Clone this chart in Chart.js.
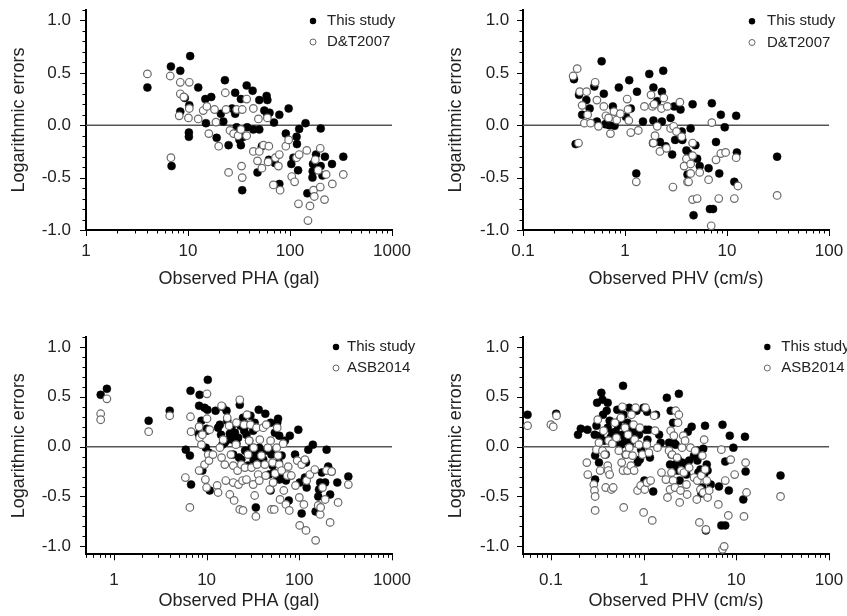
<!DOCTYPE html>
<html><head><meta charset="utf-8">
<script src="https://cdn.jsdelivr.net/npm/chart.js@4.4.1/dist/chart.umd.min.js"></script>
<style>
html,body{margin:0;padding:0;background:#fff;width:847px;height:616px;overflow:hidden;}
canvas{position:absolute;}
</style></head><body>
<canvas id="c1" width="424" height="308" style="left:0;top:0"></canvas>
<canvas id="c2" width="423" height="308" style="left:424px;top:0"></canvas>
<canvas id="c3" width="424" height="308" style="left:0;top:308px"></canvas>
<canvas id="c4" width="423" height="308" style="left:424px;top:308px"></canvas>
<script>
// ---------- tick labels ----------
const yTickValues = [-1.0, -0.5, 0.0, 0.5, 1.0];
const phaTicks = [1, 10, 100, 1000];
const phvTicks = [0.1, 1, 10, 100];
const studyLabel = 'This study';
const dtLabel = 'D&T2007';
const asbLabel = 'ASB2014';
const yTitle = 'Logarithmic errors';
const phaTitle = 'Observed PHA (gal)';
const phvTitle = 'Observed PHV (cm/s)';

// ---------- panel 1: PHA, This study vs D&T2007 ----------
const phaStudyDT = [[4.0,0.36],[6.8,0.56],[6.9,-0.39],[8.4,0.52],[8.4,0.13],[9.3,0.26],[10.5,0.66],[10.3,0.19],[10.2,-0.07],[10.2,-0.11],[12.6,0.36],[14.8,0.25],[15,0.02],[16.9,0.27],[19.1,-0.12],[21,0.11],[22.2,0.035],[23,0.43],[25,-0.19],[27,0.16],[29,0.31],[29,0.11],[30,-0.02],[33,0.25],[32,-0.14],[33,-0.19],[34,-0.62],[35,-0.11],[37.6,0.38],[38,-0.02],[43,0.33],[43.7,-0.04],[48,-0.45],[50,0.24],[50,-0.04],[53,-0.2],[56,0.14],[59,0.28],[60,0.24],[60,0.1],[63,0.12],[62,-0.33],[69.7,0.025],[71,-0.36],[78.6,0.1],[78.6,-0.56],[97,0.16],[91,-0.08],[103,-0.37],[116,-0.11],[117,-0.18],[120,-0.43],[123,-0.035],[108,-0.31],[142,0.02],[148,-0.65],[166,-0.5],[167,-0.44],[168,-0.37],[180,-0.28],[200,-0.03],[200,-0.39],[208,-0.48],[220,-0.3],[258,-0.37],[333,-0.3]];
const phaDT = [[4.0,0.49],[6.7,0.47],[6.8,-0.31],[8.4,0.41],[8.4,0.30],[9.1,0.27],[8.2,0.09],[10.3,0.41],[10.3,0.16],[10.1,0.07],[12.6,0.06],[14.1,0.14],[15.3,0.18],[16,-0.08],[18.2,0.15],[18.8,0.03],[20,-0.2],[23.2,0.31],[23.6,0.15],[25.8,-0.05],[25,-0.45],[28,-0.08],[30,0.15],[31,-0.1],[33.5,-0.39],[34,-0.5],[33,-0.04],[34,0.15],[37.6,0.25],[37.6,-0.1],[43.7,0.16],[43.7,-0.25],[48,-0.34],[49,0.06],[50,-0.25],[53,-0.41],[55,-0.19],[62,-0.2],[60,0.07],[61,-0.35],[68.7,-0.57],[72,-0.31],[78.6,-0.28],[80,-0.62],[77,-0.39],[91,-0.2],[97,-0.14],[104,-0.49],[111,-0.54],[116,-0.31],[121,-0.75],[123,-0.28],[146,-0.24],[150,-0.91],[157,-0.77],[170,-0.62],[173,-0.68],[177,-0.33],[189,-0.43],[198,-0.22],[198,-0.59],[218,-0.71],[226,-0.47],[260,-0.56],[333,-0.47]];

// ---------- panel 2: PHV, This study vs D&T2007 ----------
const phvStudyDT = [[0.316,0.44],[0.328,-0.18],[0.354,0.29],[0.38,0.1],[0.418,0.24],[0.45,0.16],[0.5,0.37],[0.53,0.035],[0.59,0.61],[0.62,0.3],[0.64,0.01],[0.67,0.02],[0.7,0.0],[0.76,0.18],[0.79,-0.006],[0.87,0.36],[1.02,0.08],[1.1,0.43],[1.14,0.16],[1.31,0.32],[1.29,-0.46],[1.5,0.035],[1.73,0.49],[1.9,0.36],[1.9,0.045],[1.88,-0.17],[2.07,0.23],[2.2,-0.16],[2.3,0.32],[2.3,0.035],[2.37,0.52],[2.5,-0.2],[2.8,0.07],[2.9,-0.28],[3.03,0.18],[3.1,-0.14],[3.5,0.15],[3.6,-0.06],[3.65,-0.14],[4.0,-0.24],[4.1,-0.47],[4.2,-0.27],[4.4,-0.03],[4.6,0.2],[4.7,-0.86],[4.9,-0.19],[5.1,-0.32],[5.4,-0.39],[6.6,-0.41],[6.8,-0.8],[7.3,-0.8],[7.1,0.21],[7.8,-0.16],[8.4,-0.46],[8.7,0.1],[9.5,-0.02],[11.8,-0.54],[12.3,0.09],[12.5,-0.26],[31,-0.3]];
const phvDT = [[0.31,0.47],[0.34,0.54],[0.35,-0.17],[0.36,0.32],[0.38,0.19],[0.4,0.02],[0.42,0.32],[0.43,0.1],[0.46,0.02],[0.51,0.41],[0.53,0.24],[0.55,-0.01],[0.62,0.18],[0.65,0.09],[0.69,0.07],[0.72,-0.08],[0.78,0.13],[0.83,0.05],[0.9,0.11],[1.05,0.25],[1.07,0.15],[1.14,-0.07],[1.09,0.045],[1.29,-0.54],[1.35,-0.05],[1.55,0.18],[1.8,0.29],[1.86,0.18],[1.93,0.2],[1.97,-0.1],[1.9,-0.17],[2.07,-0.01],[2.2,-0.25],[2.28,0.16],[2.4,0.26],[2.6,0.18],[2.55,-0.22],[2.8,-0.03],[2.95,-0.59],[3.0,-0.01],[3.2,-0.06],[3.45,0.22],[3.6,-0.11],[3.8,-0.39],[4.0,-0.32],[4.1,-0.54],[4.2,-0.54],[4.4,-0.37],[4.4,-0.46],[4.6,-0.17],[4.6,-0.29],[4.6,-0.71],[5.1,-0.7],[5.4,-0.45],[6.6,-0.52],[7.0,-0.96],[7.1,0.025],[7.8,-0.33],[8.3,-0.7],[8.7,-0.27],[9.7,-0.26],[11.8,-0.7],[12.3,-0.31],[12.8,-0.58],[31,-0.67]];

// ---------- panel 3: PHA, This study vs ASB2014 ----------
const phaStudyASB = [[0.72,0.52],[0.84,0.58],[2.37,0.26],[4.0,0.36],[5.96,-0.03],[6.6,-0.09],[6.7,0.56],[6.8,-0.38],[8.4,0.52],[8.3,0.41],[8.2,0.13],[8.8,0.26],[9.0,-0.24],[9.5,0.39],[9.8,-0.01],[10,0.18],[10.1,0.16],[10.3,0.67],[10.2,0.37],[10.6,-0.06],[10.8,-0.44],[12.5,0.36],[13.3,0.19],[13.9,0.22],[14.3,0.12],[14.8,0.4],[14.8,0.02],[15.7,0.04],[16.4,0.36],[16.7,0.26],[16.8,0.07],[17.8,0.13],[18.6,0.2],[19.1,0.07],[19.4,-0.08],[20.2,0.14],[20.7,0.07],[21,0.03],[21.9,0.09],[22.4,-0.11],[22.8,0.42],[23.2,0.21],[23.7,-0.13],[24.7,0.29],[25.4,0.16],[26,-0.04],[26.9,0.12],[27.3,0.22],[28,-0.19],[28.8,0.06],[29.7,0.31],[29.7,-0.08],[30.5,-0.01],[31.8,0.16],[32.2,-0.14],[33,0.24],[33.7,-0.09],[34,-0.61],[34.6,-0.08],[36,-0.13],[36.5,0.37],[37,-0.01],[38.2,-0.07],[39,-0.08],[40.8,-0.13],[43,0.33],[43.4,-0.04],[49,-0.44],[47,-0.28],[49,0.24],[49,-0.04],[50,-0.08],[51.5,-0.19],[53,-0.26],[54.5,0.14],[57,-0.29],[57.8,0.24],[59,0.28],[60,-0.16],[60.8,0.11],[60.8,-0.33],[64.5,-0.09],[68,-0.31],[70,0.06],[71.7,-0.34],[77,-0.54],[79,0.11],[80.6,-0.29],[90,-0.08],[97.6,0.17],[101,-0.36],[106,-0.67],[115,-0.31],[118,-0.16],[120,-0.41],[125,-0.03],[140,0.02],[150,-0.65],[160,-0.5],[163,-0.43],[168,-0.36],[175,-0.26],[190,-0.36],[197,-0.03],[205,-0.2],[215,-0.48],[223,-0.25],[257,-0.36],[338,-0.3]];
const phaASB = [[0.72,0.33],[0.72,0.27],[0.84,0.48],[2.37,0.15],[4.0,0.31],[5.9,-0.31],[6.6,-0.61],[6.7,0.3],[6.8,0.15],[8.3,0.2],[8.4,0.09],[8.3,-0.24],[8.8,0.02],[9.0,0.12],[9.5,-0.18],[9.7,-0.33],[10,-0.41],[10.1,0.53],[10.1,0.28],[10.4,-0.08],[10.6,-0.14],[10.8,0.17],[11.7,-0.08],[13,-0.39],[13.3,-0.46],[13.9,-0.01],[14.5,0.41],[14.5,-0.11],[15.1,0.07],[15.7,-0.18],[16.1,-0.34],[16.7,0.29],[17.5,0.21],[17.8,-0.48],[18.3,-0.08],[19.4,-0.19],[19.4,-0.36],[19.8,-0.54],[20.7,0.02],[21,0.24],[21.6,-0.24],[22.1,-0.38],[22.8,0.47],[22.8,-0.63],[23.7,-0.18],[24.4,-0.34],[24.7,-0.64],[25.4,0.22],[25.9,-0.21],[26.9,-0.33],[27.3,0.32],[28,-0.08],[28.8,0.06],[29.7,0.22],[30.5,-0.21],[31.8,-0.38],[32.2,-0.01],[33,-0.49],[34,-0.7],[34.6,0.19],[35,-0.18],[36,-0.28],[37,-0.34],[37.5,0.07],[39,-0.09],[40.8,0.19],[42.5,-0.18],[43.4,-0.29],[44,0.22],[45.8,-0.01],[48,-0.43],[49,0.06],[50,-0.63],[51.5,-0.16],[52.2,-0.36],[53.6,-0.63],[54.8,-0.27],[57,-0.01],[57.8,0.19],[59,-0.09],[60.8,-0.18],[62,-0.53],[64.5,-0.24],[67,0.03],[68,-0.44],[71.7,-0.58],[74,-0.29],[76,-0.2],[78,-0.64],[82,-0.29],[91,-0.39],[95,-0.14],[100,-0.51],[101,-0.79],[106,-0.18],[112,-0.58],[115,-0.13],[118,-0.84],[120,-0.34],[130,-0.28],[147,-0.23],[150,-0.94],[160,-0.59],[168,-0.68],[170,-0.61],[178,-0.41],[190,-0.53],[197,-0.24],[215,-0.76],[223,-0.25],[262,-0.56],[338,-0.38]];

// ---------- panel 4: PHV, This study vs ASB2014 ----------
const phvStudyASB = [[0.056,0.32],[0.114,0.33],[0.196,0.12],[0.21,0.18],[0.248,0.17],[0.297,0.12],[0.3,-0.09],[0.3,-0.33],[0.31,0.21],[0.315,0.44],[0.33,-0.16],[0.34,0.11],[0.35,0.54],[0.36,0.47],[0.365,0.32],[0.375,0.06],[0.39,-0.08],[0.4,0.36],[0.41,0.44],[0.41,0.19],[0.43,0.26],[0.44,0.09],[0.46,0.14],[0.48,0.04],[0.5,0.15],[0.52,0.37],[0.53,0.21],[0.56,0.27],[0.57,0.02],[0.59,0.12],[0.6,0.61],[0.61,0.32],[0.63,0.06],[0.64,-0.08],[0.67,0.24],[0.68,0.05],[0.7,0.39],[0.71,0.03],[0.73,0.17],[0.76,0.07],[0.79,0.2],[0.82,0.13],[0.84,0.36],[0.86,-0.16],[0.89,0.12],[0.91,-0.13],[0.94,-0.03],[1.0,0.39],[1.02,-0.34],[1.05,0.17],[1.09,0.35],[1.1,0.07],[1.14,0.17],[1.17,-0.11],[1.27,-0.45],[1.36,0.32],[1.47,0.12],[1.53,0.04],[1.78,0.49],[1.88,0.04],[1.93,-0.18],[1.96,0.36],[2.0,-0.08],[2.08,0.24],[2.12,0.04],[2.18,-0.18],[2.22,0.02],[2.3,-0.24],[2.35,-0.13],[2.4,0.53],[2.45,-0.34],[2.5,-0.24],[2.6,-0.16],[2.7,-0.18],[2.8,-0.24],[2.9,-0.28],[3.0,0.15],[3.1,-0.14],[3.3,0.2],[3.5,-0.09],[3.75,-0.04],[3.8,-0.14],[3.9,-0.26],[4.1,-0.23],[4.2,-0.47],[4.3,-0.41],[4.4,-0.02],[4.5,-0.28],[4.6,0.21],[4.7,-0.84],[4.8,-0.18],[4.9,-0.24],[5.3,-0.38],[6.5,-0.4],[6.9,-0.79],[7.6,-0.79],[7.1,0.22],[7.6,-0.15],[8.3,-0.44],[8.5,0.11],[9.3,-0.01],[11.9,-0.53],[12.4,0.1],[12.6,-0.25],[30,-0.29]];
const phvASB = [[0.056,0.21],[0.1,0.22],[0.106,0.2],[0.115,0.31],[0.244,-0.16],[0.25,-0.28],[0.29,-0.38],[0.295,-0.44],[0.3,-0.5],[0.3,-0.64],[0.31,-0.03],[0.32,0.27],[0.33,0.04],[0.34,-0.24],[0.36,-0.04],[0.37,0.16],[0.38,-0.08],[0.39,-0.41],[0.41,-0.19],[0.415,-0.24],[0.42,0.06],[0.43,-0.28],[0.45,-0.43],[0.46,0.03],[0.47,-0.41],[0.49,0.24],[0.51,0.09],[0.54,-0.04],[0.57,0.29],[0.58,-0.16],[0.59,0.4],[0.6,-0.24],[0.61,-0.61],[0.63,0.19],[0.65,-0.08],[0.67,-0.24],[0.68,0.12],[0.7,-0.01],[0.73,-0.19],[0.74,0.32],[0.76,-0.09],[0.78,0.22],[0.79,-0.24],[0.8,0.07],[0.82,0.39],[0.86,-0.44],[0.89,0.02],[0.91,0.19],[0.93,-0.39],[0.97,-0.08],[1.0,-0.66],[1.03,-0.43],[1.05,0.39],[1.08,0.02],[1.09,-0.36],[1.14,-0.06],[1.19,-0.34],[1.24,-0.74],[1.3,0.31],[1.33,0.16],[1.41,-0.01],[1.56,-0.26],[1.74,-0.33],[1.81,-0.51],[1.88,-0.04],[1.93,-0.43],[1.96,0.16],[2.0,-0.26],[2.03,-0.08],[2.08,-0.34],[2.12,0.11],[2.18,-0.41],[2.22,0.36],[2.3,-0.11],[2.35,0.24],[2.4,0.32],[2.45,-0.56],[2.5,-0.44],[2.55,-0.24],[2.6,-0.01],[2.68,0.11],[2.72,-0.26],[2.8,0.06],[2.9,-0.38],[2.95,-0.48],[3.1,-0.21],[3.2,-0.01],[3.5,-0.31],[3.6,-0.04],[3.75,-0.53],[3.8,-0.34],[4.0,-0.76],[4.1,-0.43],[4.2,-0.29],[4.3,-0.09],[4.4,-0.46],[4.5,0.07],[4.6,-0.23],[4.7,-0.83],[4.8,-0.34],[4.9,-0.51],[5.1,-0.44],[6.4,-0.58],[6.9,-0.03],[7.1,-1.03],[7.4,-1.0],[7.6,-0.34],[8.2,-0.69],[8.7,-0.13],[9.6,-0.28],[12.1,-0.7],[12.6,-0.16],[12.9,-0.46],[30,-0.5]];

// ---------- drawing ----------
const FONT = '"Liberation Sans", Arial, Helvetica, sans-serif';
const TEXT = '#222';

const decoPlugin = {
  id: 'deco',
  beforeDatasetsDraw(chart) {
    const {ctx, chartArea: a, scales: {y}} = chart;
    const y0 = y.getPixelForValue(0);
    ctx.save();
    ctx.strokeStyle = '#555';
    ctx.lineWidth = 1.5;
    ctx.beginPath(); ctx.moveTo(a.left, y0); ctx.lineTo(a.right, y0); ctx.stroke();
    ctx.restore();
  },
  afterDraw(chart, args, opts) {
    const {ctx, chartArea: a, scales: {x, y}} = chart;
    ctx.save();
    ctx.strokeStyle = '#000';
    ctx.lineWidth = 1;
    ctx.beginPath();
    const e0 = Math.floor(Math.log10(x.min)) , e1 = Math.ceil(Math.log10(x.max));
    for (let e = e0; e <= e1; e++) {
      for (let m = 1; m <= 9; m++) {
        const v = m * Math.pow(10, e);
        if (v < x.min * 0.999 || v > x.max * 1.001) continue;
        const px = Math.round(x.getPixelForValue(v)) + 0.5;
        const len = m === 1 ? 6 : 3.5;
        ctx.moveTo(px, a.bottom); ctx.lineTo(px, a.bottom + len);
      }
    }
    const k0 = Math.ceil(y.min * 10 - 1e-6), k1 = Math.floor(y.max * 10 + 1e-6);
    for (let k = k0; k <= k1; k++) {
      const py = Math.round(y.getPixelForValue(k / 10)) + 0.5;
      const len = k % 5 === 0 ? 6 : 3.5;
      ctx.moveTo(a.left, py); ctx.lineTo(a.left - len, py);
    }
    ctx.stroke();
    // legend
    const L = opts.legend;
    ctx.beginPath(); ctx.arc(L.x, L.y1, 3.2, 0, Math.PI * 2); ctx.fillStyle = '#000'; ctx.fill();
    ctx.beginPath(); ctx.arc(L.x, L.y2, 3, 0, Math.PI * 2); ctx.fillStyle = '#fff'; ctx.fill();
    ctx.strokeStyle = '#666'; ctx.lineWidth = 1; ctx.stroke();
    ctx.fillStyle = TEXT;
    ctx.font = '15px ' + FONT;
    ctx.textBaseline = 'middle';
    ctx.textAlign = 'left';
    ctx.fillText(L.t1, L.tx, L.y1);
    ctx.fillText(L.t2, L.tx, L.y2);
    ctx.restore();
  }
};

function toXY(arr) { return arr.map(([x, y]) => ({x, y})); }

function makePanel(p) {
  new Chart(document.getElementById(p.id), {
    type: 'scatter',
    data: {
      datasets: [
        {label: studyLabel, data: toXY(p.study), order: 2,
         backgroundColor: '#000', borderColor: '#000', borderWidth: 0.5, pointRadius: 4, pointHoverRadius: 4},
        {label: p.otherLabel, data: toXY(p.other), order: 1,
         backgroundColor: '#fff', borderColor: '#6a6a6a', borderWidth: 1.2, pointRadius: 3.8, pointHoverRadius: 3.8}
      ]
    },
    options: {
      responsive: false,
      animation: false,
      events: [],
      layout: {padding: {left: 0, top: p.padTop, right: p.padRight, bottom: 0}},
      plugins: {legend: {display: false}, tooltip: {enabled: false},
        deco: {legend: p.legend}},
      scales: {
        x: {
          type: 'logarithmic', position: 'bottom', min: p.xMin, max: p.xMax,
          grid: {display: false, drawTicks: false},
          border: {display: true, color: '#000', width: 2},
          ticks: {autoSkip: false, maxRotation: 0, padding: p.xTickPad, color: TEXT,
                  font: {family: FONT, size: 17}, callback: (v) => String(v)},
          afterBuildTicks: (s) => { s.ticks = p.xTicks.map(v => ({value: v})); },
          afterFit: (s) => { s.height = p.xH; s.paddingLeft = 0; s.paddingRight = 0; },
          title: {display: true, text: p.xTitle, color: TEXT, font: {family: FONT, size: 18},
                  padding: {top: 0, bottom: p.xTitlePad}}
        },
        y: {
          type: 'linear', position: 'left', min: p.yMin, max: p.yMax,
          grid: {display: false, drawTicks: false},
          border: {display: true, color: '#000', width: 2},
          ticks: {padding: p.yTickPad, color: TEXT, font: {family: FONT, size: 17},
                  callback: (v) => Number(v).toFixed(1)},
          afterBuildTicks: (s) => { s.ticks = yTickValues.map(v => ({value: v})); },
          afterFit: (s) => { s.width = p.yW; s.paddingTop = 0; s.paddingBottom = 0; },
          title: {display: true, text: yTitle, color: TEXT, font: {family: FONT, size: 18},
                  padding: {top: p.yTitlePad, bottom: 0}}
        }
      }
    },
    plugins: [decoPlugin]
  });
}

makePanel({id: 'c1', study: phaStudyDT, other: phaDT, otherLabel: dtLabel, xTitle: phaTitle,
  xMin: 1, xMax: 1000, xTicks: phaTicks, yMin: -1.0, yMax: 1.1,
  padTop: 10, padRight: 32, yW: 86, xH: 78, xTickPad: 11.6, xTitlePad: 18.4, yTickPad: 15, yTitlePad: 8.3,
  legend: {x: 313, y1: 21, y2: 42, tx: 327, t1: studyLabel, t2: dtLabel}});
makePanel({id: 'c2', study: phvStudyDT, other: phvDT, otherLabel: dtLabel, xTitle: phvTitle,
  xMin: 0.1, xMax: 100, xTicks: phvTicks, yMin: -1.0, yMax: 1.1,
  padTop: 10, padRight: 18, yW: 99, xH: 78, xTickPad: 11.6, xTitlePad: 18.4, yTickPad: 13.7, yTitlePad: 21.5,
  legend: {x: 328, y1: 21.3, y2: 42.5, tx: 343, t1: studyLabel, t2: dtLabel}});
makePanel({id: 'c3', study: phaStudyASB, other: phaASB, otherLabel: asbLabel, xTitle: phaTitle,
  xMin: 0.5, xMax: 1000, xTicks: phaTicks, yMin: -1.08, yMax: 1.1,
  padTop: 29, padRight: 32, yW: 86, xH: 61.7, xTickPad: 15.9, xTitlePad: 4.1, yTickPad: 15, yTitlePad: 8.4,
  legend: {x: 336, y1: 39, y2: 60, tx: 347, t1: studyLabel, t2: asbLabel}});
makePanel({id: 'c4', study: phvStudyASB, other: phvASB, otherLabel: asbLabel, xTitle: phvTitle,
  xMin: 0.05, xMax: 100, xTicks: phvTicks, yMin: -1.08, yMax: 1.1,
  padTop: 29, padRight: 18, yW: 99, xH: 61.7, xTickPad: 15.9, xTitlePad: 4.1, yTickPad: 13.7, yTitlePad: 21.5,
  legend: {x: 343.3, y1: 39, y2: 60, tx: 357.3, t1: studyLabel, t2: asbLabel}});
</script>
</body></html>
